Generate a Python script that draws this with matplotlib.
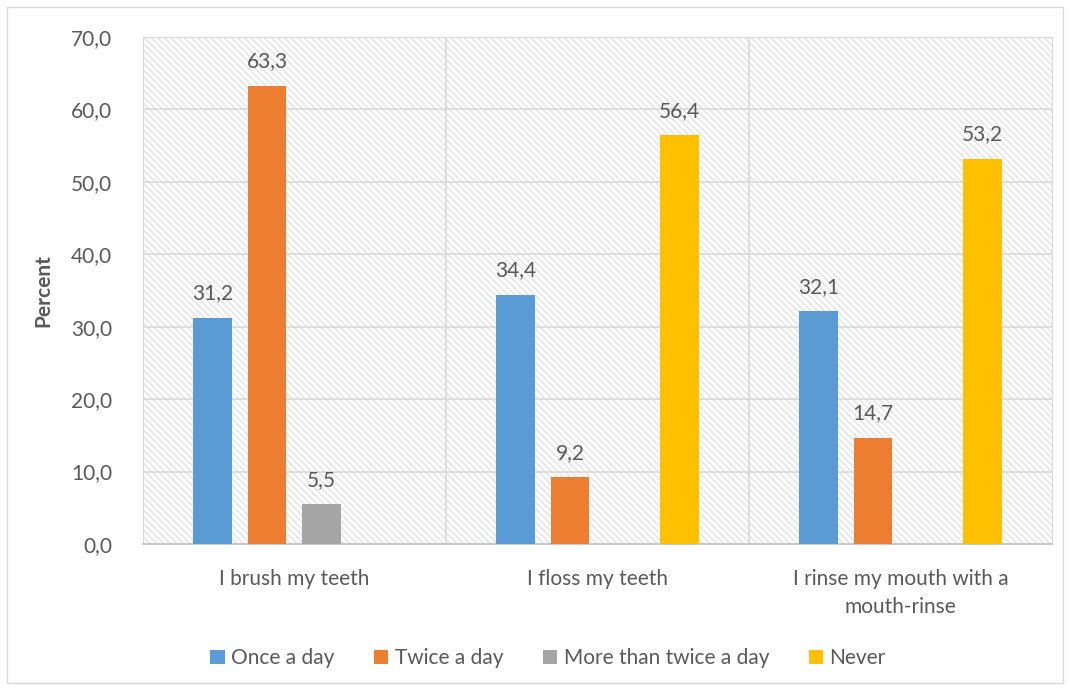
import matplotlib.pyplot as plt
import numpy as np
from matplotlib.patches import Rectangle

# частота гигиенических процедур, проценты
categories = ["I brush my teeth", "I floss my teeth", "I rinse my mouth with a\nmouth-rinse"]
series_names = ["Once a day", "Twice a day", "More than twice a day", "Never"]
once_a_day = [31.2, 34.4, 32.1]
twice_a_day = [63.3, 9.2, 14.7]
more_than_twice = [5.5, None, None]
never = [None, 56.4, 53.2]
y_ticks = [0, 10, 20, 30, 40, 50, 60, 70]

colors = ["#5B9BD5", "#ED7D31", "#A5A5A5", "#FFC000"]
text_color = "#595959"
fs = 15

plt.rcParams['font.family'] = ['Lato', 'DejaVu Sans']
plt.rcParams['hatch.linewidth'] = 1.1

fig = plt.figure(figsize=(10.7, 6.9), dpi=100)
fig.patches.append(Rectangle((0.007, 0.01), 0.986, 0.98, transform=fig.transFigure,
                             fill=False, edgecolor="#D9D9D9", linewidth=1))
ax = fig.add_axes([0.1336, 0.2116, 0.8496, 0.7348])

# штриховка фона области построения
ax.add_patch(Rectangle((0, 0), 1, 1, transform=ax.transAxes, facecolor="white",
                       edgecolor="#E4E4E4", linewidth=0, hatch="\\" * 5, zorder=0))

x = np.arange(len(categories))
slot = 0.18
offsets = (np.arange(4) - 1.5) * slot
width = 0.127

all_series = [once_a_day, twice_a_day, more_than_twice, never]
for s, (values, name, color) in enumerate(zip(all_series, series_names, colors)):
    xs = [xi + offsets[s] for xi, v in zip(x, values) if v is not None]
    vs = [v for v in values if v is not None]
    ax.bar(xs, vs, width=width, color=color, label=name, zorder=3)
    for xi, v in zip(xs, vs):
        ax.text(xi, v + 2.0, f"{v:.1f}".replace(".", ","), ha="center", va="bottom",
                fontsize=fs, color=text_color, zorder=4)

ax.set_xlim(-0.5, len(categories) - 0.5)
ax.set_ylim(0, 70)
ax.set_yticks(y_ticks)
ax.set_yticklabels([f"{t:.1f}".replace(".", ",") for t in y_ticks], fontsize=fs, color=text_color)
ax.set_xticks(x)
ax.set_xticklabels(categories, fontsize=fs, color=text_color, linespacing=1.5)
ax.tick_params(axis="y", length=0, pad=22)
ax.tick_params(axis="x", length=0, pad=18)

for y in y_ticks[1:]:
    ax.axhline(y, color="#D9D9D9", linewidth=1.2, zorder=1)
for xv in [0.5, 1.5]:
    ax.axvline(xv, color="#D9D9D9", linewidth=1.2, zorder=1)

for side in ["top", "right", "left"]:
    ax.spines[side].set_color("#D9D9D9")
ax.spines["bottom"].set_color("#BFBFBF")
ax.spines["bottom"].set_linewidth(1.2)

ax.set_ylabel("Percent", fontsize=fs, fontweight="bold", color=text_color, labelpad=13)

fig.legend(loc="center", bbox_to_anchor=(0.512, 0.046), ncol=4, frameon=False,
           fontsize=fs, handlelength=0.7, handleheight=0.7, handletextpad=0.3,
           columnspacing=1.9, labelcolor=text_color)

fig.savefig("out.png", dpi=100)
